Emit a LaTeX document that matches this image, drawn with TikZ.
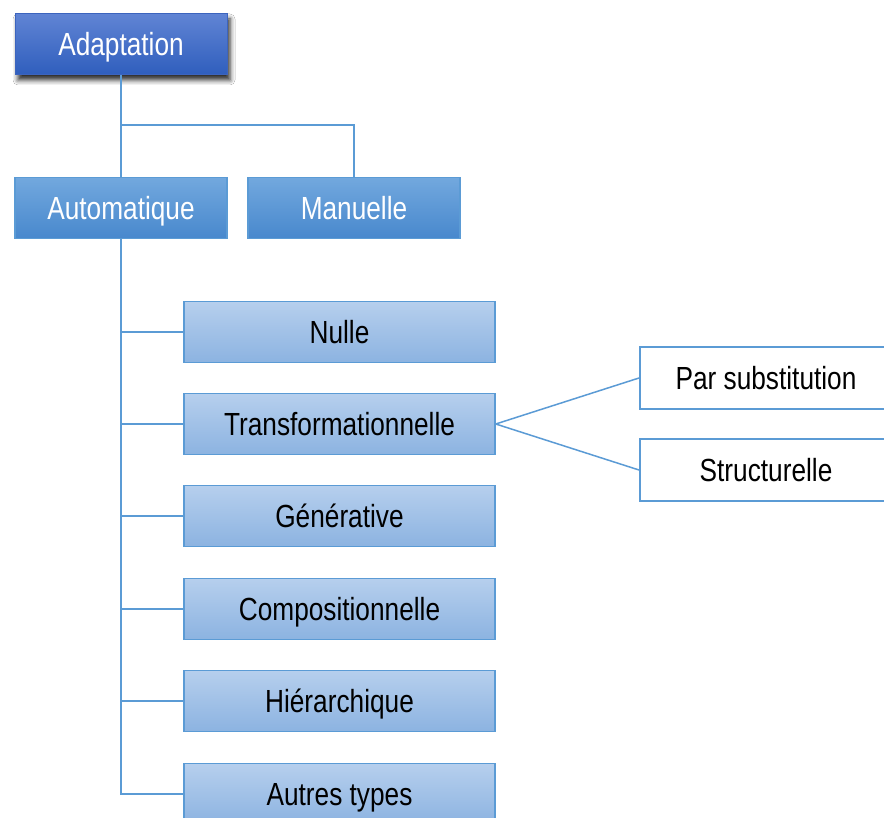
\documentclass[tikz,border=0pt]{standalone}
\usepackage{fontspec}
\setmainfont{Liberation Sans}[FakeStretch=0.82]
\usetikzlibrary{shadows.blur}
\definecolor{linkblue}{RGB}{91,155,213}
\definecolor{darktop}{RGB}{96,132,212}
\definecolor{darkbot}{RGB}{47,94,189}
\definecolor{darkedge}{RGB}{60,100,190}
\definecolor{midtop}{RGB}{114,168,222}
\definecolor{midbot}{RGB}{72,136,205}
\definecolor{lighttop}{RGB}{182,207,237}
\definecolor{lightbot}{RGB}{140,179,225}
\tikzset{
  box/.style={rectangle, inner sep=0pt, font=\fontsize{32}{36}\selectfont,
    text height=23pt, text depth=0pt},
  rootbox/.style={box, minimum width=212pt, minimum height=61pt,
    top color=darktop, bottom color=darkbot, draw=darkedge, line width=1pt,
    text=white, blur shadow={shadow xshift=3pt, shadow yshift=-5pt, shadow blur radius=5pt, shadow opacity=85}},
  modebox/.style={box, minimum width=212pt, minimum height=61pt,
    top color=midtop, bottom color=midbot, draw=linkblue, line width=1.5pt, text=white},
  kindbox/.style={box, minimum width=311pt, minimum height=61pt,
    top color=lighttop, bottom color=lightbot, draw=linkblue, line width=1.5pt, text=black},
  subbox/.style={box, minimum width=252pt, minimum height=62pt,
    fill=white, draw=linkblue, line width=2pt, text=black},
  link/.style={draw=linkblue, line width=1.5pt}
}
\begin{document}
\begin{tikzpicture}[x=1pt, y=-1pt]
  \useasboundingbox (0,0) rectangle (884,818);
  \clip (0,0) rectangle (884,818);
  \fill[white] (0,0) rectangle (884,818);

  % top levels
  \node[rootbox] (adapt) at (121,44.5) {Adaptation};
  \node[modebox] (auto) at (121,208) {Automatique};
  \node[modebox] (manu) at (354,208) {Manuelle};

  % kinds of automatic adaptation
  \node[kindbox] (nulle) at (339.5,332) {Nulle};
  \node[kindbox] (trans) at (339.5,424) {Transformationnelle};
  \node[kindbox] (gener) at (339.5,516) {Générative};
  \node[kindbox] (compo) at (339.5,609) {Compositionnelle};
  \node[kindbox] (hier) at (339.5,701) {Hiérarchique};
  \node[kindbox] (autres) at (339.5,794) {Autres types};

  % kinds of transformational adaptation
  \node[subbox] (subst) at (766,378) {Par substitution};
  \node[subbox] (struct) at (766,470) {Structurelle};

  % connectors
  \coordinate (fork) at (121,125);
  \draw[link] (adapt.south) -- (auto.north);
  \draw[link] (fork) -| (manu.north);
  \draw[link] (auto.south) |- (autres.west);
  \foreach \k in {nulle,trans,gener,compo,hier}
    \draw[link] (auto.south |- \k.west) -- (\k.west);
  \draw[link] (trans.east) -- (subst.west);
  \draw[link] (trans.east) -- (struct.west);
\end{tikzpicture}
\end{document}
